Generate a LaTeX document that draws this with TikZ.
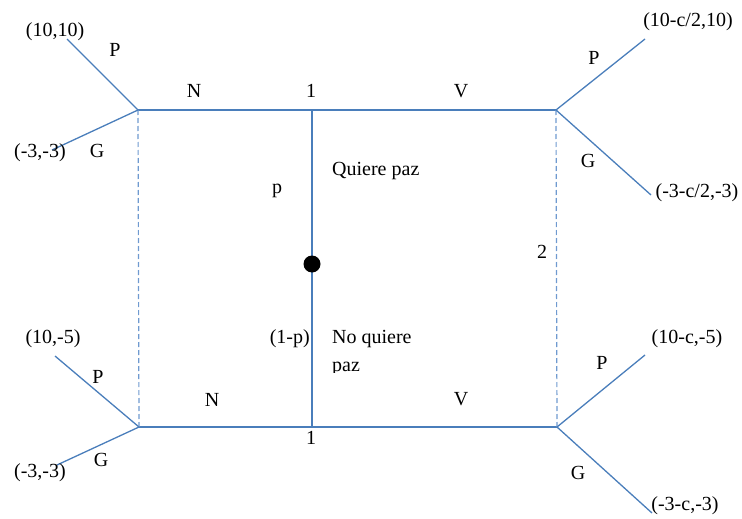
\documentclass[tikz,border=0pt]{standalone}
\usepackage{fontspec}
\setmainfont{Liberation Serif}
\definecolor{lblue}{HTML}{4A7EBB}
\definecolor{dblue}{HTML}{6F9AD0}
\begin{document}
\begin{tikzpicture}[x=1pt,y=-1pt,
  main/.style={draw=lblue,line width=1.8pt},
  branch/.style={draw=lblue,line width=1.3pt},
  info/.style={draw=dblue,line width=1.2pt,dash pattern=on 5pt off 3pt},
  lbl/.style={font=\fontsize{20}{22}\selectfont,inner sep=0pt,text=black}]
\useasboundingbox (0,0) rectangle (742,519);
% decision nodes
\coordinate (TL) at (138,110);
\coordinate (TM) at (312,110);
\coordinate (TR) at (556,110);
\coordinate (BL) at (139,427);
\coordinate (BM) at (312,427);
\coordinate (BR) at (557,427);
\coordinate (C) at (312,264);
% terminal ends
\coordinate (tlP) at (67,39);
\coordinate (tlG) at (52,150);
\coordinate (trP) at (645,39);
\coordinate (trG) at (651,195);
\coordinate (blP) at (55,356);
\coordinate (blG) at (57,465);
\coordinate (brP) at (645,355);
\coordinate (brG) at (652,513);
% main lines
\draw[main] (TL) -- (TM) -- (TR);
\draw[main] (BL) -- (BM) -- (BR);
\draw[main] (TM) -- (BM);
\draw[info] (TL) -- (BL);
\draw[info] (TR) -- (BR);
% branches
\draw[branch] (TL) -- (tlP);
\draw[branch] (TL) -- (tlG);
\draw[branch] (TR) -- (trP);
\draw[branch] (TR) -- (trG);
\draw[branch] (BL) -- (blP);
\draw[branch] (BL) -- (blG);
\draw[branch] (BR) -- (brP);
\draw[branch] (BR) -- (brG);
\fill[black] (C) circle (8.5);
% labels
\node[lbl] (l1) at (55,32) {(10,10)};
\node[lbl] (l2) at (115,50) {P};
\node[lbl] (l3) at (40,153) {(-3,-3)};
\node[lbl] (l4) at (97,151) {G};
\node[lbl] (l5) at (194,91) {N};
\node[lbl] (l6) at (311,91) {1};
\node[lbl] (l7) at (461,91) {V};
\node[lbl] (l8) at (688,22) {(10-c/2,10)};
\node[lbl] (l9) at (594,58) {P};
\node[lbl] (l10) at (588,161) {G};
\node[lbl] (l11) at (697,193) {(-3-c/2,-3)};
\node[lbl,anchor=west] (l12) at (332,171) {Quiere paz};
\node[lbl] (l13) at (277,191) {p};
\node[lbl] (l14) at (542,252) {2};
\node[lbl] (l15) at (53,339) {(10,-5)};
\node[lbl] (l16) at (98,377) {P};
\node[lbl,anchor=east] (l17) at (310,339) {(1-p)};
\node[lbl,anchor=west] (l18) at (332,339) {No quiere};
\begin{scope}
\clip (320,352) rectangle (420,372);
\node[lbl,anchor=base west] (l19) at (332,371) {paz};
\end{scope}
\node[lbl] (l20) at (212,400) {N};
\node[lbl] (l21) at (461,399) {V};
\node[lbl] (l22) at (311,438) {1};
\node[lbl] (l23) at (40,473) {(-3,-3)};
\node[lbl] (l24) at (101,460) {G};
\node[lbl] (l25) at (687,339) {(10-c,-5)};
\node[lbl] (l26) at (602,363) {P};
\node[lbl] (l27) at (578,473) {G};
\node[lbl] (l28) at (685,506) {(-3-c,-3)};
\end{tikzpicture}
\end{document}
